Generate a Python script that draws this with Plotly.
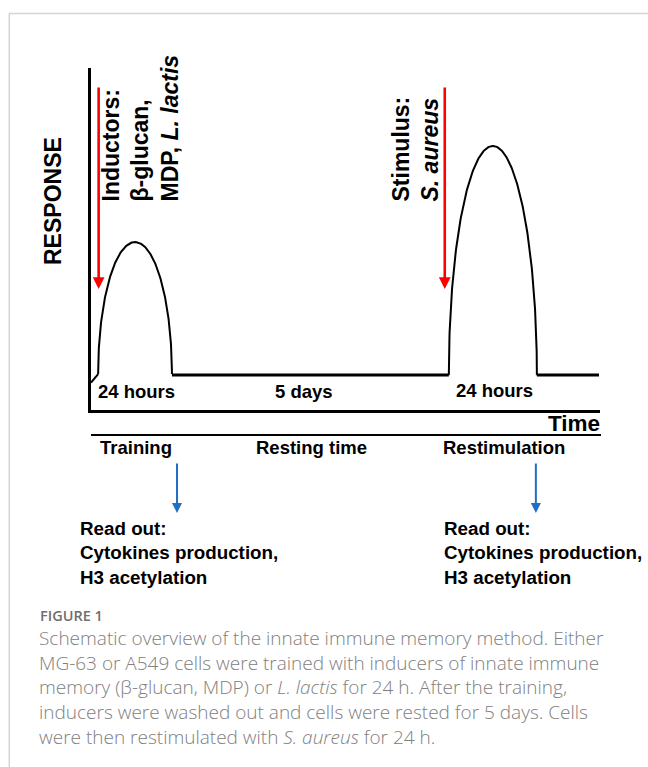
import numpy as np
import plotly.graph_objects as go

W, H = 648, 767

# ---- schematic values (arbitrary units: time 0-100, response 0-100) ----
baseline = 10.2
onset = [0.0, 8.0]                 # initial small rise (time, response)
bump_start = [1.4, 70.3]           # time at which each response starts
bump_end = [15.9, 87.6]            # time at which each response ends
bump_peak = [49.1, 77.2]           # peak response height
t_end = 99.8

phase_labels = ["24 hours", "5 days", "24 hours"]
phase_label_x = [9.0, 41.8, 79.2]
phase_label_y = [5.3, 5.3, 5.8]
phase_names = ["Training", "Resting time", "Restimulation"]
phase_name_x = [8.8, 43.4, 81.1]
stim_text = ["Inductors:<br>β-glucan,<br>MDP, <i>L. lactis</i>",
             "Stimulus:<br><i>S. aureus</i>"]
stim_time = [1.5, 69.5]
stim_text_x = [140, 415]           # px centre of rotated text blocks
readout_time = [16.9, 87.4]
readout_lines = ["Read out:", "Cytokines production,", "H3 acetylation"]
readout_left_px = [78, 442]

caption_title = "FIGURE 1"
caption_lines = [
    "Schematic overview of the innate immune memory method. Either",
    "MG-63 or A549 cells were trained with inducers of innate immune",
    "memory (β-glucan, MDP) or <i>L. lactis</i> for 24 h. After the training,",
    "inducers were washed out and cells were rested for 5 days. Cells",
    "were then restimulated with <i>S. aureus</i> for 24 h.",
]

# plot area in pixels
X0, X1 = 91, 600
Y_TOP, Y_BOT = 68, 410


def px(x):
    return x / W


def py(y):
    return 1 - y / H


FONT = "Liberation Sans, Arial, sans-serif"
CAP_FONT = "Open Sans, sans-serif"

fig = go.Figure()


def arch(t0, t1, peak, base, n=200):
    th = np.linspace(np.pi, 0, n)
    c, a = (t0 + t1) / 2, (t1 - t0) / 2
    return c + a * np.cos(th), base + (peak - base) * np.sin(th)


# initial kink + first bump
x1, y1 = arch(bump_start[0], bump_end[0], bump_peak[0], baseline + 0.3)
fig.add_trace(go.Scatter(x=[onset[0], bump_start[0]], y=[onset[1], baseline + 0.3],
                         mode="lines", line=dict(color="black", width=2)))
fig.add_trace(go.Scatter(x=x1, y=y1, mode="lines", line=dict(color="black", width=2)))
# resting baseline
fig.add_trace(go.Scatter(x=[bump_end[0], bump_start[1]], y=[baseline, baseline],
                         mode="lines", line=dict(color="black", width=3)))
x2, y2 = arch(bump_start[1], bump_end[1], bump_peak[1], baseline)
fig.add_trace(go.Scatter(x=x2, y=y2, mode="lines", line=dict(color="black", width=2)))
fig.add_trace(go.Scatter(x=[bump_end[1], t_end], y=[baseline, baseline],
                         mode="lines", line=dict(color="black", width=3)))

ann = []
# phase durations
for lab, lx, ly in zip(phase_labels, phase_label_x, phase_label_y):
    ann.append(dict(x=lx, y=ly, xref="x", yref="y", text=f"<b>{lab}</b>", showarrow=False,
                    xanchor="center", yanchor="middle",
                    font=dict(family=FONT, size=18.5, color="black")))
# phase names
for nm, nx in zip(phase_names, phase_name_x):
    ann.append(dict(x=nx, y=py(448), xref="x", yref="paper", text=f"<b>{nm}</b>", showarrow=False,
                    xanchor="center", yanchor="middle",
                    font=dict(family=FONT, size=18.5, color="black")))
# Time label
ann.append(dict(x=px(602), y=py(423), xref="paper", yref="paper", text="<b>Time</b>",
                showarrow=False, xanchor="right", yanchor="middle",
                font=dict(family=FONT, size=22.5, color="black")))
# RESPONSE
ann.append(dict(x=px(53), y=py(201), xref="paper", yref="paper", text="<b>RESPONSE</b>",
                showarrow=False, textangle=-90, xanchor="center", yanchor="middle",
                font=dict(family=FONT, size=23, color="black")))
# stimulus texts and red arrows
for txt, sx, st in zip(stim_text, stim_text_x, stim_time):
    ann.append(dict(x=px(sx), y=py(204), xref="paper", yref="paper", text=f"<b>{txt}</b>",
                    showarrow=False, textangle=-90, align="left", xanchor="center", yanchor="bottom",
                    font=dict(family=FONT, size=23, color="black")))
    ann.append(dict(x=st, y=py(289), xref="x", yref="paper", ax=0, ay=-(289 - 86),
                    text="", showarrow=True, arrowhead=2, arrowsize=0.9, arrowwidth=2.6,
                    arrowcolor="#ff0000"))
# readout arrows and text
for rt, rl in zip(readout_time, readout_left_px):
    ann.append(dict(x=rt, y=py(513), xref="x", yref="paper", ax=0, ay=-(513 - 462),
                    text="", showarrow=True, arrowhead=2, arrowsize=1, arrowwidth=2,
                    arrowcolor="#1f6fc4"))
    ann.append(dict(x=px(rl), y=py(553), xref="paper", yref="paper",
                    text="<br>".join(f"<b>{l}</b>" for l in readout_lines),
                    showarrow=False, xanchor="left", yanchor="middle", align="left",
                    font=dict(family=FONT, size=18.8, color="black")))
# caption
ann.append(dict(x=px(38), y=py(615), xref="paper", yref="paper", text=caption_title,
                showarrow=False, xanchor="left", yanchor="middle",
                font=dict(family=CAP_FONT, size=14.5, color="#6e6e6e", weight=600)))
ann.append(dict(x=px(37), y=py(687), xref="paper", yref="paper", text="<br>".join(caption_lines),
                showarrow=False, xanchor="left", yanchor="middle", align="left",
                font=dict(family=CAP_FONT, size=19, color="#808080", weight=300)))

shapes = [
    # frame lines of the figure box
    dict(type="line", xref="paper", yref="paper", x0=px(9), x1=1, y0=py(13.5), y1=py(13.5),
         line=dict(color="#d4d4d4", width=1.5)),
    dict(type="line", xref="paper", yref="paper", x0=px(9.3), x1=px(9.3), y0=py(13.5), y1=0,
         line=dict(color="#d4d4d4", width=1.5)),
    # thin line below the time axis
    dict(type="line", xref="paper", yref="paper", x0=px(91), x1=px(601), y0=py(435), y1=py(435),
         line=dict(color="black", width=2)),
]

fig.update_layout(
    width=W, height=H, autosize=False,
    margin=dict(l=0, r=0, t=0, b=0),
    paper_bgcolor="white", plot_bgcolor="white",
    showlegend=False,
    annotations=ann, shapes=shapes,
    xaxis=dict(domain=[px(X0), px(X1)], range=[0, 100], showgrid=False, zeroline=False,
               showticklabels=False, ticks="", showline=True, linecolor="black", linewidth=3),
    yaxis=dict(domain=[py(Y_BOT), py(Y_TOP)], range=[0, 100], showgrid=False, zeroline=False,
               showticklabels=False, ticks="", showline=True, linecolor="black", linewidth=3),
)

fig.write_html("out.html", config={"displayModeBar": False},
               post_script="document.body.style.margin='0';")
